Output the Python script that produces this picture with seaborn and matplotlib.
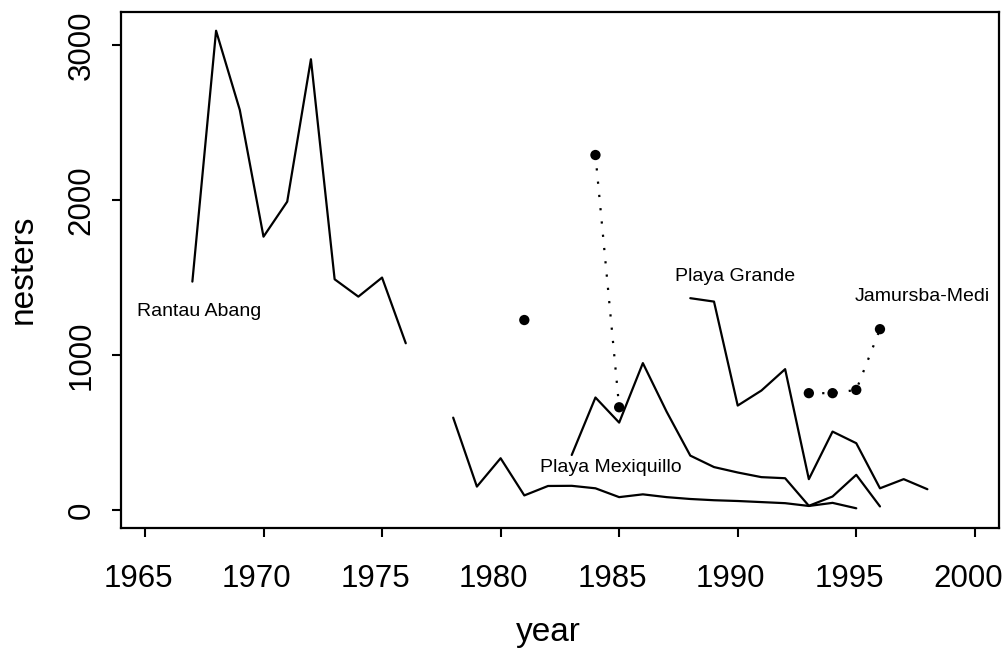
import numpy as np
import pandas as pd
import matplotlib
matplotlib.use("Agg")
import matplotlib.pyplot as plt
from matplotlib.transforms import ScaledTranslation
import seaborn as sns

# ---- data ----
rantau_years = [1967, 1968, 1969, 1970, 1971, 1972, 1973, 1974, 1975, 1976]
rantau_values = [1473, 3092, 2581, 1763, 1989, 2908, 1488, 1376, 1499, 1075]

other_years = list(range(1978, 1996))
other_values = [595, 150, 333, 93, 154, 155, 139, 82, 100, 82, 70, 62, 57, 50, 43, 25, 45, 10]

mexiquillo_years = list(range(1983, 1997))
mexiquillo_values = [354, 725, 563, 947, 634, 350, 276, 241, 211, 204, 26, 86, 226, 22]

grande_years = list(range(1988, 1999))
grande_values = [1366, 1344, 673, 770, 908, 198, 505, 430, 139, 198, 133]

jamursba_years = list(range(1981, 1997))
jamursba_values = [1225, np.nan, np.nan, 2290, 662, np.nan, np.nan, np.nan, np.nan,
                   np.nan, np.nan, np.nan, 753, 753, 774, 1166]

label_names = ["Rantau Abang", "Playa Mexiquillo", "Playa Grande", "Jamursba-Medi"]
label_x = [1967.3, 1984.65, 1989.88, 1997.79]
label_y = [1252, 245, 1477, 1348]

x_ticks = [1965, 1970, 1975, 1980, 1985, 1990, 1995, 2000]
y_ticks = [0, 1000, 2000, 3000]

# ---- style ----
sns.set_style("ticks")
plt.rcParams["font.family"] = ["Liberation Sans", "DejaVu Sans"]
plt.rcParams["text.color"] = "black"
plt.rcParams["axes.labelcolor"] = "black"

fig = plt.figure(figsize=(10.08, 6.5), dpi=100)
W, H = 1008, 650
ax = fig.add_axes([121 / W, 1 - 527.5 / H, (999 - 121) / W, (527.5 - 12) / H])

lw = 1.6
for xs, ys in [(rantau_years, rantau_values), (other_years, other_values),
               (mexiquillo_years, mexiquillo_values), (grande_years, grande_values)]:
    sns.lineplot(x=xs, y=ys, ax=ax, color="black", linewidth=lw, estimator=None)

jm = pd.DataFrame({"year": jamursba_years, "nesters": jamursba_values})
jm["segment"] = jm["nesters"].isna().cumsum()
jm = jm.dropna()
sns.lineplot(data=jm, x="year", y="nesters", units="segment", estimator=None,
             ax=ax, color="black", linewidth=lw, linestyle=(0, (1, 5)))
sns.scatterplot(data=jm, x="year", y="nesters", ax=ax, color="black",
                s=55, edgecolor="none", zorder=3)

for name, lx, ly in zip(label_names, label_x, label_y):
    ax.text(lx, ly, name, ha="center", va="baseline", fontsize=14,
            color="black", clip_on=False)

ax.set_xlim(1963.99, 2001.02)
ax.set_ylim(-114, 3213)
ax.set_xticks(x_ticks)
ax.set_yticks(y_ticks)
ax.set_xticklabels([str(t) for t in x_ticks])
ax.set_yticklabels([str(t) for t in y_ticks], rotation=90, va="center")
ax.tick_params(axis="both", direction="out", length=6.5, width=1.5,
               labelsize=22.5, colors="black")
ax.tick_params(axis="x", pad=19.5)
ax.tick_params(axis="y", pad=11)
shift = ScaledTranslation(-7 / 100, 0, fig.dpi_scale_trans)
for lab in ax.get_xticklabels():
    lab.set_transform(lab.get_transform() + shift)
for sp in ax.spines.values():
    sp.set_visible(True)
    sp.set_linewidth(1.6)
    sp.set_color("black")

ax.set_xlabel("")
ax.set_ylabel("")
fig.text(548 / W, 1 - 641 / H, "year", ha="center", va="baseline", fontsize=24,
         color="black")
fig.text(39 / W, 1 - 269.5 / H, "nesters", ha="right", va="center",
         rotation=90, fontsize=24, color="black")

fig.savefig("out.png", dpi=100, facecolor="white")
